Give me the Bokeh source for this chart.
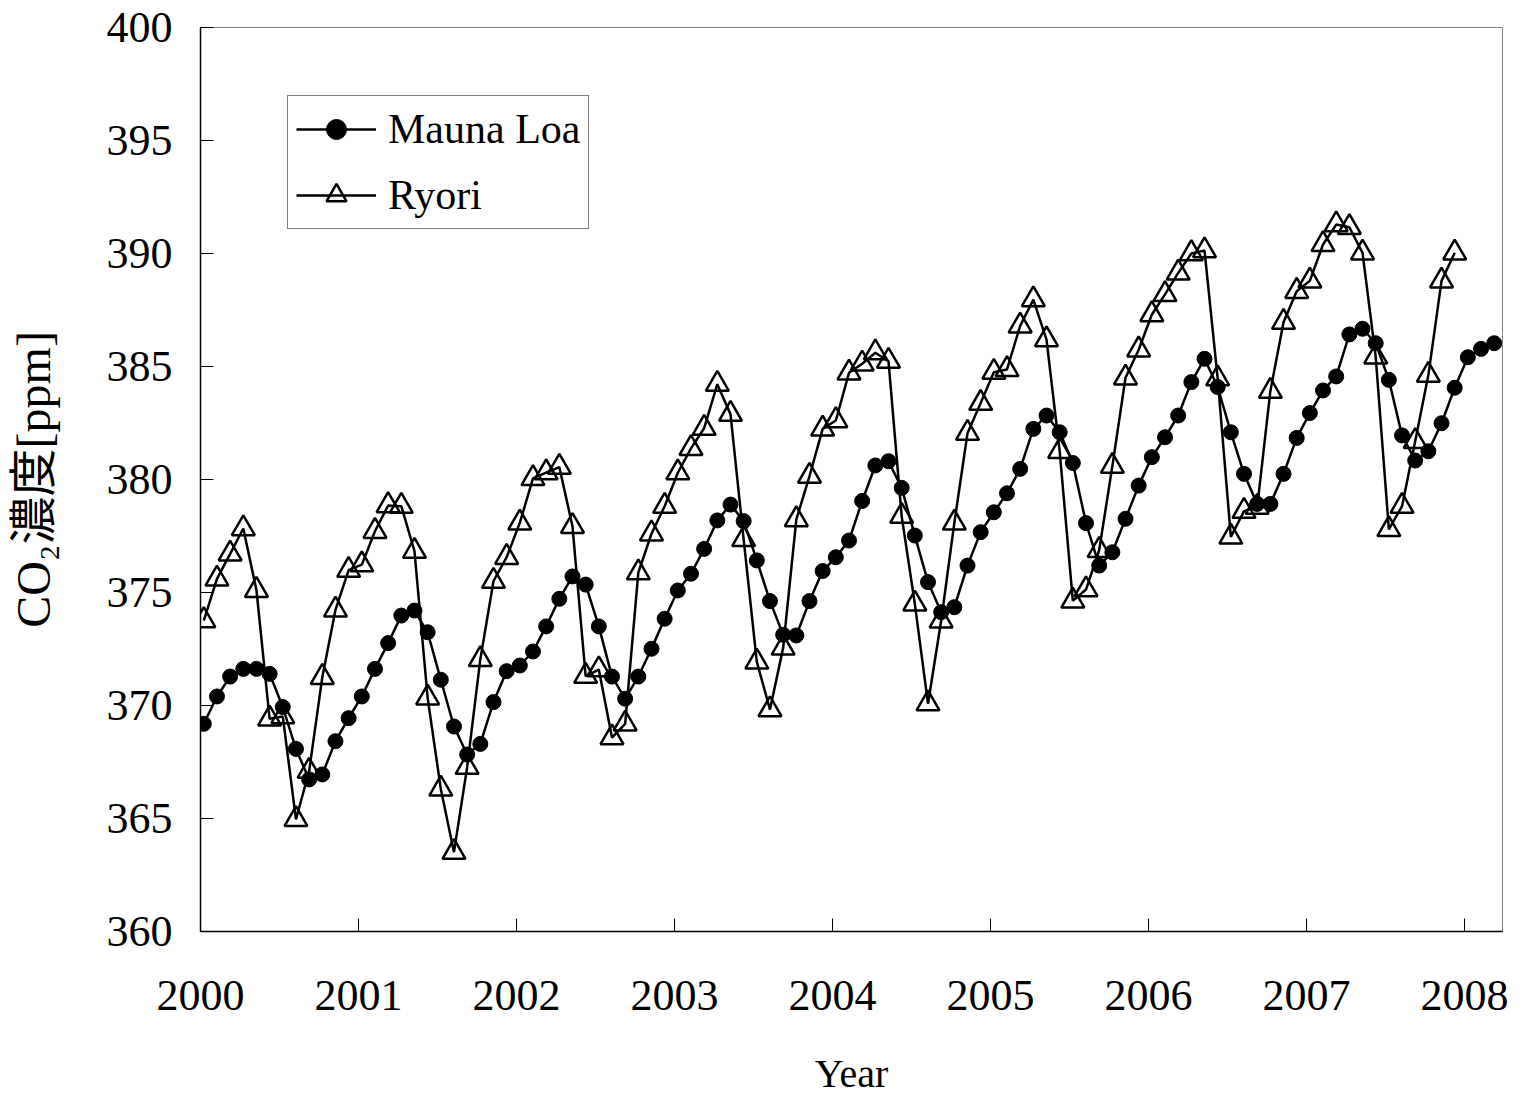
from bokeh.plotting import figure
from bokeh.models import Range1d, FixedTicker, Legend, LegendItem
from bokeh.embed import file_html
from bokeh.resources import INLINE

# ---- data (monthly values, Jan 2000 onward) ----
start_year = 2000
mauna_loa = [
    369.19, 370.40, 371.28, 371.62, 371.62, 371.40, 369.93, 368.08, 366.73, 366.95, 368.42, 369.44,
    370.40, 371.62, 372.76, 373.98, 374.20, 373.24, 371.14, 369.07, 367.83, 368.30, 370.15, 371.52,
    371.77, 372.39, 373.50, 374.72, 375.71, 375.35, 373.50, 371.28, 370.30, 371.28, 372.51, 373.84,
    375.09, 375.83, 376.93, 378.19, 378.89, 378.16, 376.42, 374.62, 373.13, 373.10, 374.62, 375.95,
    376.56, 377.30, 379.05, 380.62, 380.81, 379.63, 377.52, 375.46, 374.13, 374.35, 376.19, 377.67,
    378.55, 379.39, 380.47, 382.24, 382.83, 382.09, 380.73, 378.07, 376.19, 376.78, 378.26, 379.73,
    380.99, 381.87, 382.83, 384.31, 385.34, 384.09, 382.09, 380.25, 378.92, 378.92, 380.25, 381.84,
    382.94, 383.94, 384.56, 386.42, 386.67, 386.03, 384.41, 381.95, 380.84, 381.25, 382.49, 384.06,
    385.41, 385.78, 386.03,
]
ryori = [
    373.76, 375.60, 376.71, 377.83, 375.10, 369.41, 369.51, 364.96, 367.10, 371.25, 374.23, 375.99,
    376.23, 377.71, 378.85, 378.82, 376.83, 370.34, 366.31, 363.51, 367.27, 372.04, 375.50, 376.56,
    378.08, 380.05, 380.30, 380.55, 377.93, 371.30, 371.59, 368.58, 369.19, 375.88, 377.60, 378.82,
    380.30, 381.38, 382.27, 384.22, 382.89, 377.35, 371.93, 369.82, 372.55, 378.23, 380.15, 382.24,
    382.61, 384.72, 385.12, 385.61, 385.24, 378.38, 374.50, 370.08, 373.75, 378.08, 382.05, 383.38,
    384.75, 384.87, 386.80, 387.96, 386.19, 381.25, 374.63, 375.13, 376.87, 380.59, 384.50, 385.74,
    387.30, 388.19, 389.14, 390.00, 390.13, 384.46, 377.46, 378.60, 378.78, 383.91, 386.96, 388.33,
    388.79, 390.40, 391.28, 391.16, 390.03, 385.43, 377.79, 378.82, 381.69, 384.62, 388.79, 390.03,
]
x_ticks = [2000, 2001, 2002, 2003, 2004, 2005, 2006, 2007, 2008]
y_ticks = [360, 365, 370, 375, 380, 385, 390, 395, 400]
series_names = ["Mauna Loa", "Ryori"]
x_label = "Year"
y_label = "CO₂濃度[ppm]"

ml_x = [start_year + (i + 0.25) / 12 for i in range(len(mauna_loa))]
ry_x = [start_year + (i + 0.25) / 12 for i in range(len(ryori))]

FONT = "Liberation Serif"

p = figure(width=1513, height=1098,
           x_range=Range1d(2000, 2008.24), y_range=Range1d(360, 400),
           output_backend="svg", toolbar_location=None,
           min_border_left=200, min_border_right=11,
           min_border_top=27, min_border_bottom=167)
p.xgrid.visible = False
p.ygrid.visible = False
p.outline_line_color = "#808080"
p.outline_line_width = 1
p.background_fill_color = "white"
p.border_fill_color = "white"

for ax, ticks in ((p.xaxis[0], x_ticks), (p.yaxis[0], y_ticks)):
    ax.ticker = FixedTicker(ticks=ticks)
    ax.minor_tick_line_color = None
    ax.major_tick_in = 13
    ax.major_tick_out = 0
    ax.major_tick_line_color = "black"
    ax.major_tick_line_width = 1
    ax.axis_line_color = "black"
    ax.axis_line_width = 1.5
    ax.major_label_text_font = FONT
    ax.major_label_text_font_size = "44px"
    ax.major_label_text_color = "black"
    ax.axis_label_text_font = FONT
    ax.axis_label_text_font_style = "normal"
    ax.axis_label_text_color = "black"

p.xaxis[0].axis_label = x_label
p.xaxis[0].axis_label_text_font_size = "40px"
p.xaxis[0].major_label_standoff = 49
p.xaxis[0].axis_label_standoff = 38

p.yaxis[0].axis_label = y_label
p.yaxis[0].axis_label_text_font = "'Liberation Serif', 'Noto Sans CJK JP'"
p.yaxis[0].axis_label_text_font_size = "48px"
p.yaxis[0].major_label_standoff = 28
p.yaxis[0].axis_label_standoff = 44

ml_line = p.line(ml_x, mauna_loa, line_color="black", line_width=2.5)
ml_pts = p.scatter(ml_x, mauna_loa, marker="circle", size=15,
                   fill_color="black", line_color="black")
ry_line = p.line(ry_x, ryori, line_color="black", line_width=2.5)
ry_pts = p.scatter(ry_x, ryori, marker="triangle", size=23,
                   fill_color="white", fill_alpha=0.0, line_color="black", line_width=2.5)

legend = Legend(items=[
    LegendItem(label=series_names[0], renderers=[ml_line, ml_pts]),
    LegendItem(label=series_names[1], renderers=[ry_line, ry_pts]),
], location=(87, 702))
legend.label_text_font = FONT
legend.label_text_font_size = "42px"
legend.label_text_color = "black"
legend.glyph_width = 80
legend.glyph_height = 50
legend.label_height = 50
legend.label_standoff = 12
legend.spacing = 16
legend.padding = 8
legend.margin = 0
legend.border_line_color = "black"
legend.border_line_width = 1
legend.background_fill_color = "white"
legend.background_fill_alpha = 1.0
p.add_layout(legend, "center")

open("out.html", "w").write(file_html(p, INLINE))
